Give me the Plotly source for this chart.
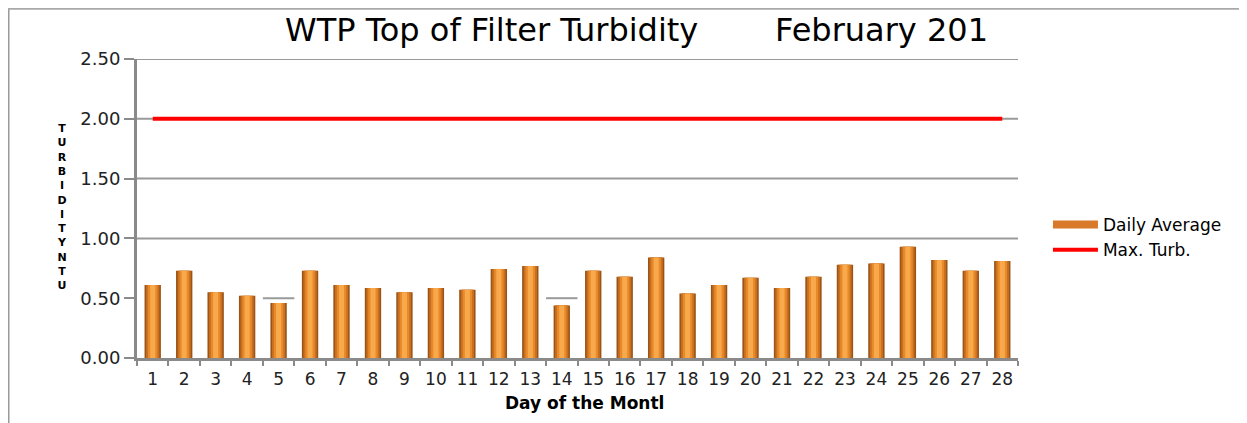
import plotly.graph_objects as go

days = [str(d) for d in range(1, 29)]
daily_avg = [0.61, 0.73, 0.55, 0.52, 0.46, 0.73, 0.61, 0.585, 0.55, 0.585,
             0.57, 0.745, 0.77, 0.44, 0.73, 0.68, 0.84, 0.54, 0.61, 0.67,
             0.585, 0.68, 0.78, 0.79, 0.93, 0.82, 0.73, 0.81]
max_turb = [2.0] * 28
y_ticks = [0.0, 0.5, 1.0, 1.5, 2.0, 2.5]

FONT = "DejaVu Sans"
fig = go.Figure()

# cylinder-like bars: layered widths dark -> light
layers = [(0.52, "#9a5418"), (0.42, "#c8701f"), (0.30, "#e88a2a"), (0.16, "#f8a94c")]
for w, c in layers:
    fig.add_trace(go.Bar(x=days, y=daily_avg, width=w, marker_color=c,
                         marker_line_width=0, name="Daily Average",
                         showlegend=False))

# legend-only entry for the bars (wide bar-like symbol)
fig.add_trace(go.Scatter(x=[None], y=[None], mode="lines", name="Daily Average",
                         line=dict(color="#d9792a", width=8)))
fig.add_trace(go.Scatter(x=days, y=max_turb, mode="lines", name="Max. Turb.",
                         line=dict(color="#ff0000", width=4)))

shapes = []
for t in y_ticks[2:]:
    shapes.append(dict(type="line", xref="paper", yref="y", x0=0, x1=1, y0=t, y1=t,
                       line=dict(color="#9a9a9a", width=2), layer="below"))
for i, v in enumerate(daily_avg):
    if v < 0.5:
        shapes.append(dict(type="line", xref="x", yref="y", x0=i - 0.5, x1=i + 0.5,
                           y0=0.5, y1=0.5, line=dict(color="#9a9a9a", width=2), layer="below"))
# outer frame lines
shapes.append(dict(type="line", xref="paper", yref="paper", x0=-0.1464, x1=-0.1464,
                   y0=-0.3, y1=1.168, line=dict(color="#9a9a9a", width=3)))
shapes.append(dict(type="line", xref="paper", yref="paper", x0=-0.1464, x1=1.3,
                   y0=1.168, y1=1.168, line=dict(color="#a8a8a8", width=2)))

annotations = [
    dict(text="WTP Top of Filter Turbidity", xref="paper", yref="paper", x=0.1657, y=1.097,
         xanchor="left", yanchor="middle", showarrow=False,
         font=dict(family=FONT, size=32, color="#000")),
    dict(text="February 201", xref="paper", yref="paper", x=0.968, y=1.097,
         xanchor="right", yanchor="middle", showarrow=False,
         font=dict(family=FONT, size=32, color="#000")),
    dict(text="<b>" + "<br>".join(list("TURBIDITYNTU")) + "</b>", xref="paper", yref="paper",
         x=-0.085, y=0.505, xanchor="center", yanchor="middle", showarrow=False,
         font=dict(family=FONT, size=11, color="#000")),
    dict(text="<b>Day of the Montl</b>", xref="paper", yref="paper", x=0.5085, y=-0.1505,
         xanchor="center", yanchor="middle", showarrow=False,
         font=dict(family=FONT, size=17, color="#000")),
]

fig.update_layout(
    width=1247, height=423,
    margin=dict(l=129, r=237, t=51, b=73),
    paper_bgcolor="white", plot_bgcolor="white",
    barmode="overlay",
    showlegend=True,
    legend=dict(x=1.034, y=0.505, xanchor="left", yanchor="top",
                font=dict(family=FONT, size=17, color="#000"),
                bgcolor="rgba(0,0,0,0)", tracegroupgap=0, itemwidth=45),
    shapes=shapes,
    annotations=annotations,
    xaxis=dict(type="category", showgrid=False, showline=True, linecolor="#8a8a8a",
               linewidth=3, ticks="outside", tickson="boundaries", ticklen=5,
               tickcolor="#8a8a8a", tickwidth=2, ticklabelstandoff=4, tickangle=0,
               tickfont=dict(family=FONT, size=17, color="#222")),
    yaxis=dict(range=[0, 2.5], tickvals=y_ticks, tickformat=".2f", showgrid=False,
               showline=True, linecolor="#8a8a8a", linewidth=3, ticks="outside",
               ticklen=10, tickcolor="#8a8a8a", tickwidth=2, zeroline=False,
               tickfont=dict(family=FONT, size=18, color="#222")),
)

fig.write_html("out.html")
